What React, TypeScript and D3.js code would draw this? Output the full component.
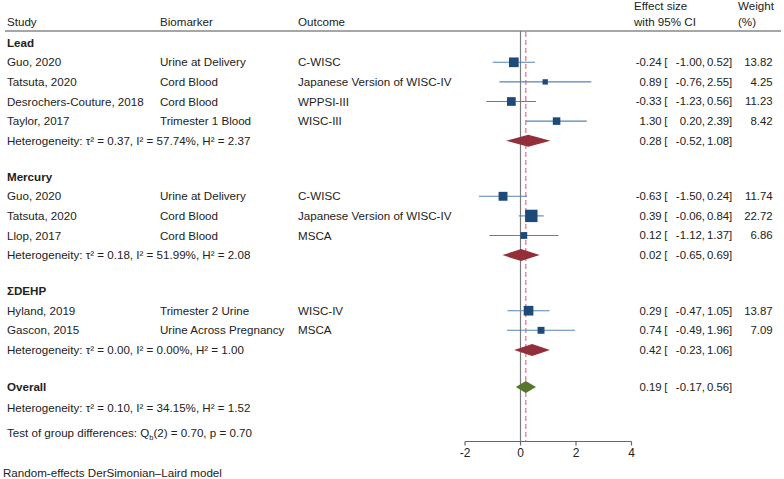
import React from "react";
import * as d3 from "d3";

const W = 784;
const H = 479;

const groups = ["Lead", "Mercury", "ΣDEHP"];
const studies = [
  ["Guo, 2020", "Tatsuta, 2020", "Desrochers-Couture, 2018", "Taylor, 2017"],
  ["Guo, 2020", "Tatsuta, 2020", "Llop, 2017"],
  ["Hyland, 2019", "Gascon, 2015"],
];
const biomarkers = [
  ["Urine at Delivery", "Cord Blood", "Cord Blood", "Trimester 1 Blood"],
  ["Urine at Delivery", "Cord Blood", "Cord Blood"],
  ["Trimester 2 Urine", "Urine Across Pregnancy"],
];
const outcomes = [
  ["C-WISC", "Japanese Version of WISC-IV", "WPPSI-III", "WISC-III"],
  ["C-WISC", "Japanese Version of WISC-IV", "MSCA"],
  ["WISC-IV", "MSCA"],
];
const estimates = [
  [-0.24, 0.89, -0.33, 1.3],
  [-0.63, 0.39, 0.12],
  [0.29, 0.74],
];
const lowers = [
  [-1.0, -0.76, -1.23, 0.2],
  [-1.5, -0.06, -1.12],
  [-0.47, -0.49],
];
const uppers = [
  [0.52, 2.55, 0.56, 2.39],
  [0.24, 0.84, 1.37],
  [1.05, 1.96],
];
const weights = [
  [13.82, 4.25, 11.23, 8.42],
  [11.74, 22.72, 6.86],
  [13.87, 7.09],
];
const groupEst = [0.28, 0.02, 0.42];
const groupLo = [-0.52, -0.65, -0.23];
const groupHi = [1.08, 0.69, 1.06];
const groupTau2 = ["0.37", "0.18", "0.00"];
const groupI2 = ["57.74", "51.99", "0.00"];
const groupH2 = ["2.37", "2.08", "1.00"];
const overallEst = 0.19;
const overallLo = -0.17;
const overallHi = 0.56;
const overallHet = { tau2: "0.10", i2: "34.15", h2: "1.52" };
const xTicks = [-2, 0, 2, 4];

const FONT = "'Liberation Sans', Arial, Helvetica, sans-serif";
const TXT = "#222";
const FS = 11.6;
const NFS = 11.4;

const f2 = (v: number) => v.toFixed(2);

export default function App() {
  const x = d3.scaleLinear().domain([-2, 4]).range([465, 631.5]);

  const step = 19.6;
  const gap = 36;
  type Row = { kind: string; g: number; i: number; y: number };
  const rows: Row[] = [];
  let y = 42.7;
  groups.forEach((_, g) => {
    rows.push({ kind: "header", g, i: -1, y });
    studies[g].forEach((_, i) => {
      y += step;
      rows.push({ kind: "study", g, i, y });
    });
    y += step;
    rows.push({ kind: "het", g, i: -1, y });
    y += gap;
  });
  y += 1;
  const overallY = y;
  const overallHetY = overallY + step + 1.5;
  const testY = overallHetY + 25;
  const axisY = 441.5;
  const topY = 31;

  const sq = (w: number) => 2.6 * Math.sqrt(w);
  const diamond = (lo: number, est: number, hi: number, cy: number) => {
    const h = 6;
    return `M${x(lo)},${cy} L${x(est)},${cy - h} L${x(hi)},${cy} L${x(est)},${cy + h} Z`;
  };

  const effectText = (est: number, lo: number, hi: number, cy: number, key: string) => (
    <g key={key} fontFamily={FONT} fontSize={NFS} fill={TXT}>
      <text x={661.7} y={cy} dy="0.35em" textAnchor="end">{f2(est)}</text>
      <text x={664.3} y={cy} dy="0.35em" textAnchor="start">[</text>
      <text x={705} y={cy} dy="0.35em" textAnchor="end">{f2(lo) + ","}</text>
      <text x={732.3} y={cy} dy="0.35em" textAnchor="end">{f2(hi) + "]"}</text>
    </g>
  );

  const hetText = (t: string, i: string, h: string) =>
    `Heterogeneity: τ² = ${t}, I² = ${i}%, H² = ${h}`;

  return (
    <svg
      width={W}
      height={H}
      style={{ position: "absolute", left: 0, top: 0, background: "#fff" }}
      fontFamily={FONT}
    >
      <rect width={W} height={H} fill="#fff" />
      <g fontSize={FS} fill={TXT}>
        <text x={7} y={22} dy="0.35em">Study</text>
        <text x={160} y={22} dy="0.35em">Biomarker</text>
        <text x={298} y={22} dy="0.35em">Outcome</text>
        <text x={634} y={6} dy="0.35em">Effect size</text>
        <text x={634} y={22} dy="0.35em">with 95% CI</text>
        <text x={738} y={6} dy="0.35em">Weight</text>
        <text x={738} y={22} dy="0.35em">(%)</text>
      </g>
      <line x1={5} x2={781} y1={topY} y2={topY} stroke="#888" strokeWidth={1.5} />

      <line x1={x(0)} x2={x(0)} y1={topY} y2={axisY} stroke="#7a7a7a" strokeWidth={1.2} />
      <line
        x1={x(overallEst)}
        x2={x(overallEst)}
        y1={topY + 1}
        y2={axisY}
        stroke="#e88aa6"
        strokeWidth={1.5}
        strokeDasharray="5,3"
      />

      {rows.map((r, k) => {
        if (r.kind === "header") {
          return (
            <text key={k} x={7} y={r.y} dy="0.35em" fontSize={FS} fontWeight="bold" fill={TXT}>
              {groups[r.g]}
            </text>
          );
        }
        if (r.kind === "study") {
          const g = r.g, i = r.i;
          const e = estimates[g][i], lo = lowers[g][i], hi = uppers[g][i], w = weights[g][i];
          const s = sq(w);
          return (
            <g key={k}>
              <g fontSize={FS} fill={TXT}>
                <text x={7} y={r.y} dy="0.35em">{studies[g][i]}</text>
                <text x={160} y={r.y} dy="0.35em">{biomarkers[g][i]}</text>
                <text x={298} y={r.y} dy="0.35em">{outcomes[g][i]}</text>
              </g>
              <text x={772.7} y={r.y} dy="0.35em" textAnchor="end" fontSize={NFS} fill={TXT}>{f2(w)}</text>
              <line x1={x(lo)} x2={x(hi)} y1={r.y} y2={r.y} stroke="#5583b5" strokeWidth={1.1} />
              <rect x={x(e) - s / 2} y={r.y - s / 2} width={s} height={s} fill="#1d4a78" />
              {effectText(e, lo, hi, r.y, "e" + k)}
            </g>
          );
        }
        const g = r.g;
        return (
          <g key={k}>
            <text x={7} y={r.y} dy="0.35em" fontSize={FS} fill={TXT}>
              {hetText(groupTau2[g], groupI2[g], groupH2[g])}
            </text>
            <path d={diamond(groupLo[g], groupEst[g], groupHi[g], r.y)} fill="#922f3b" />
            {effectText(groupEst[g], groupLo[g], groupHi[g], r.y, "g" + k)}
          </g>
        );
      })}

      <text x={7} y={overallY} dy="0.35em" fontSize={FS} fontWeight="bold" fill={TXT}>Overall</text>
      <path d={diamond(overallLo, overallEst, overallHi, overallY)} fill="#56772b" />
      {effectText(overallEst, overallLo, overallHi, overallY, "ov")}
      <text x={7} y={overallHetY} dy="0.35em" fontSize={FS} fill={TXT}>
        {hetText(overallHet.tau2, overallHet.i2, overallHet.h2)}
      </text>
      <text x={7} y={testY} dy="0.35em" fontSize={FS} fill={TXT}>
        Test of group differences: Q
        <tspan fontSize={7.5} dy="3">b</tspan>
        <tspan dy="-3">(2) = 0.70, p = 0.70</tspan>
      </text>

      <line x1={x(-2)} x2={x(4)} y1={axisY} y2={axisY} stroke="#666" strokeWidth={1.2} />
      {xTicks.map((t) => (
        <g key={t}>
          <line x1={x(t)} x2={x(t)} y1={axisY} y2={axisY + 4} stroke="#666" strokeWidth={1.2} />
          <text x={x(t)} y={axisY + 11} dy="0.35em" textAnchor="middle" fontSize={12} fill={TXT}>
            {t}
          </text>
        </g>
      ))}

      <text x={3} y={473} dy="0.35em" fontSize={FS} fill={TXT}>Random-effects DerSimonian–Laird model</text>
    </svg>
  );
}
